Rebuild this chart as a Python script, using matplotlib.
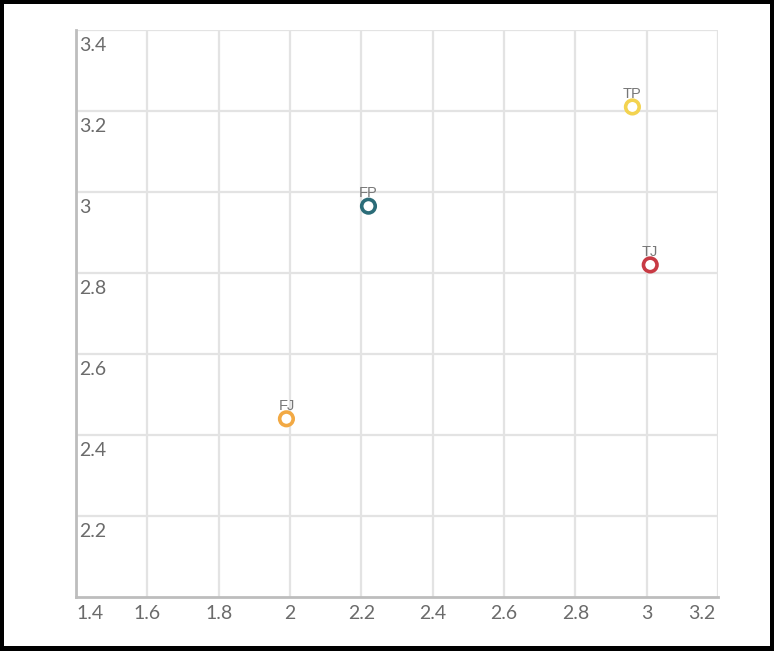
import matplotlib.pyplot as plt
from matplotlib.patches import Rectangle

labels = ["FP", "TP", "TJ", "FJ"]
x_vals = [2.22, 2.96, 3.01, 1.99]
y_vals = [2.965, 3.21, 2.82, 2.44]
colors = ["#2b6c78", "#f3d350", "#c83a44", "#f2a944"]

x_ticks = [1.4, 1.6, 1.8, 2.0, 2.2, 2.4, 2.6, 2.8, 3.0, 3.2]
x_tick_labels = ["1.4", "1.6", "1.8", "2", "2.2", "2.4", "2.6", "2.8", "3", "3.2"]
y_ticks = [2.2, 2.4, 2.6, 2.8, 3.0, 3.2, 3.4]
y_tick_labels = ["2.2", "2.4", "2.6", "2.8", "3", "3.2", "3.4"]

W, H = 774, 651
fig = plt.figure(figsize=(W / 100, H / 100), dpi=100, facecolor="black")
fig.patches.append(Rectangle((4 / W, 5 / H), 766 / W, 642 / H,
                             transform=fig.transFigure, facecolor="white",
                             edgecolor="none", zorder=-1))

ax = fig.add_axes([76 / W, (H - 597) / H, (718 - 76) / W, (597 - 30) / H])
ax.set_xlim(1.4, 3.2)
ax.set_ylim(2.0, 3.4)
ax.set_facecolor("white")

# light grid, drawn by hand so the outer lines show too
for v in x_ticks:
    ax.axvline(v, color="#e3e3e3", lw=1.6, zorder=0)
for v in y_ticks:
    ax.axhline(v, color="#e3e3e3", lw=1.6, zorder=0)

for s in ["top", "right"]:
    ax.spines[s].set_visible(False)
for s in ["left", "bottom"]:
    ax.spines[s].set_color("#bdbdbd")
    ax.spines[s].set_linewidth(2)

ax.set_xticks([])
ax.set_yticks([])

font = ["Lato", "DejaVu Sans"]
for i, (v, t) in enumerate(zip(x_ticks, x_tick_labels)):
    dx = 0
    if i == 0:
        dx = 0.04
    if i == len(x_ticks) - 1:
        dx = -0.045
    ax.text(v + dx, 1.98, t, ha="center", va="top", fontsize=14,
            color="#6b6b6b", family=font, clip_on=False)

for v, t in zip(y_ticks, y_tick_labels):
    ax.text(1.41, v - 0.018, t, ha="left", va="top", fontsize=14,
            color="#6b6b6b", family=font)

ax.scatter(x_vals, y_vals, s=95, facecolors="white", edgecolors=colors,
           linewidths=2.6, zorder=3)
for x, y, lab in zip(x_vals, y_vals, labels):
    ax.annotate(lab, (x, y), xytext=(0, 4.5), textcoords="offset points",
                ha="center", va="bottom", fontsize=10.5, color="#777777",
                family=["Liberation Sans", "DejaVu Sans"], zorder=4)

fig.savefig("out.png", dpi=100, facecolor="black")
